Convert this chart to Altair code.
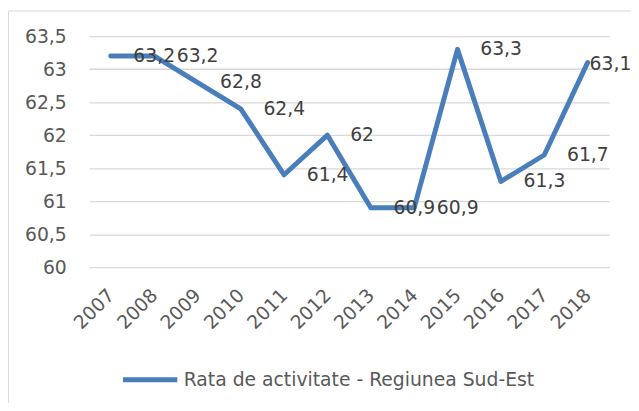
import altair as alt
import pandas as pd

years = ["2007", "2008", "2009", "2010", "2011", "2012",
         "2013", "2014", "2015", "2016", "2017", "2018"]
values = [63.2, 63.2, 62.8, 62.4, 61.4, 62.0, 60.9, 60.9, 63.3, 61.3, 61.7, 63.1]
series_name = "Rata de activitate - Regiunea Sud-Est"
y_ticks = [60, 60.5, 61, 61.5, 62, 62.5, 63, 63.5]

df = pd.DataFrame({
    "an": years,
    "rata": values,
    "eticheta": [f"{v:g}".replace(".", ",") for v in values],
    "serie": [series_name] * len(years),
})

FONT = "DejaVu Sans"
W, H = 527, 234

x = alt.X(
    "an:O", title=None, sort=years,
    scale=alt.Scale(type="point", padding=0.5),
    axis=alt.Axis(labelAngle=-45, labelAlign="right", labelBaseline="middle",
                  labelPadding=25, ticks=False, domain=False, grid=False,
                  labelFontSize=19, labelColor="#595959", labelFont=FONT),
)
y = alt.Y(
    "rata:Q", title=None,
    scale=alt.Scale(domain=[60, 63.5], nice=False, zero=False),
    axis=alt.Axis(values=y_ticks,
                  labelExpr="replace(format(datum.value, '~g'), '.', ',')",
                  ticks=False, domain=False, gridColor="#d9d9d9", gridWidth=1.3,
                  labelPadding=23, labelFontSize=19, labelColor="#595959",
                  labelFont=FONT),
)

base = alt.Chart(df)

line = base.mark_line(strokeWidth=5, strokeCap="round", strokeJoin="round").encode(
    x=x, y=y,
    color=alt.Color(
        "serie:N",
        scale=alt.Scale(range=["#4A7EBB"]),
        legend=alt.Legend(title=None, orient="none", legendX=32, legendY=318,
                          symbolType="stroke", symbolSize=3025,
                          symbolStrokeWidth=5, labelFontSize=19,
                          labelColor="#595959", labelFont=FONT,
                          labelOffset=4, labelLimit=600),
    ),
)

text_main = base.transform_filter(alt.datum.an != years[-1]).mark_text(
    align="left", baseline="middle", dx=23, fontSize=19,
    color="#404040", font=FONT
).encode(x=x, y=y, text="eticheta:N")

text_last = base.transform_filter(alt.datum.an == years[-1]).mark_text(
    align="left", baseline="middle", dx=2, dy=2, fontSize=19,
    color="#404040", font=FONT
).encode(x=x, y=y, text="eticheta:N")

frame = alt.Chart(alt.Data(values=[{}])).mark_rect(
    fill="white", fillOpacity=0, stroke="#d9d9d9", strokeWidth=1
).encode(
    x=alt.value(-81.5), x2=alt.value(W + 60),
    y=alt.value(-25.5), y2=alt.value(H + 200),
)

chart = alt.layer(frame, line, text_main, text_last).properties(
    width=W, height=H,
    padding={"left": 82, "top": 26, "right": 22, "bottom": 135},
    autosize=alt.AutoSizeParams(type="none"),
    background="white",
).configure_view(stroke=None)

chart.save("out.html", embed_options={"renderer": "svg", "actions": False})
